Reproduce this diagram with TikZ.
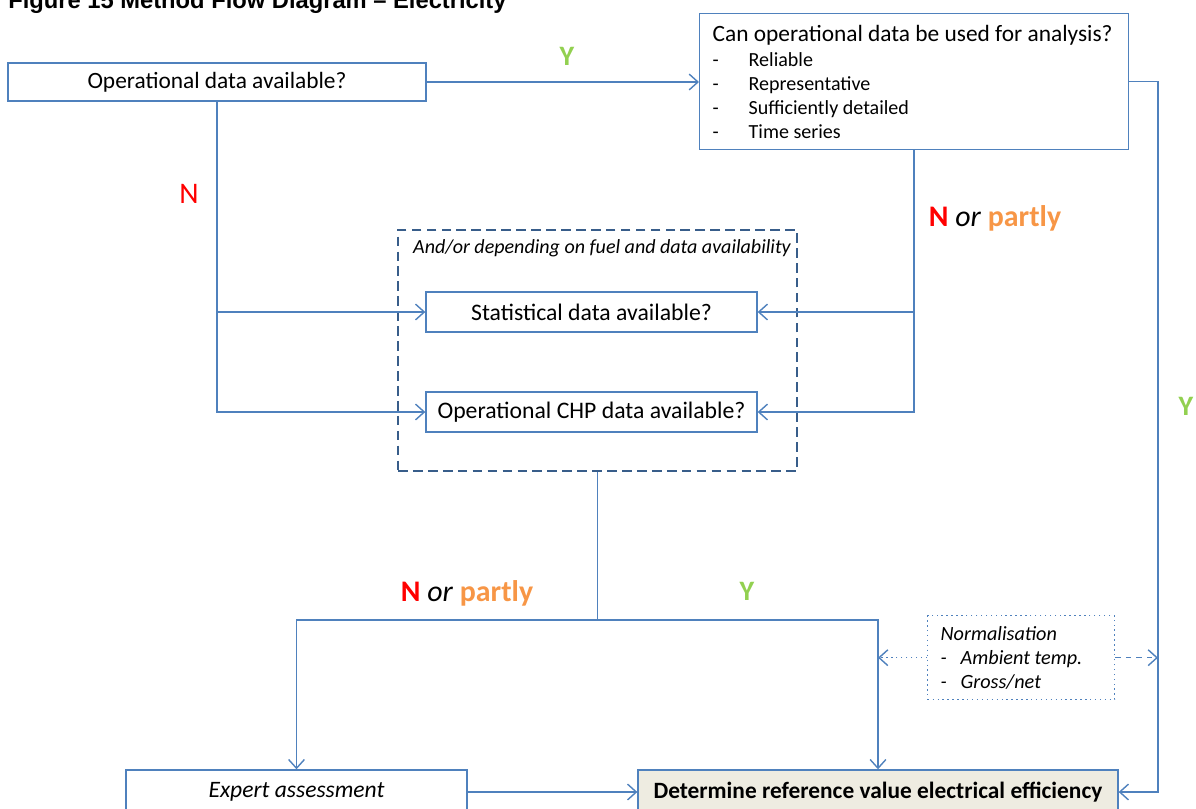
\documentclass[tikz,border=0pt]{standalone}
\usepackage{fontspec}
\setmainfont{Carlito}
\newfontfamily\titlefont{Liberation Sans}
\usetikzlibrary{arrows.meta,calc,positioning}

\definecolor{boxblue}{HTML}{4F81BD}
\definecolor{grpblue}{HTML}{385D8A}
\definecolor{ansgreen}{HTML}{92D050}
\definecolor{ansred}{HTML}{FF0000}
\definecolor{ansorange}{HTML}{F79646}
\definecolor{finfill}{HTML}{EEECE1}

\newcommand{\dashitem}[2]{\makebox[#1][l]{-}#2}
\newcommand{\norpartly}{\textcolor{ansred}{\textbf{N}} \textit{or} \textcolor{ansorange}{\textbf{partly}}}

\begin{document}
\begin{tikzpicture}[
    x=0.02cm, y=-0.02cm,
    >={Straight Barb[length=5pt,width=9pt]},
    qbox/.style={draw=boxblue, line width=0.8pt, fill=white, inner sep=0pt, font=\fontsize{13.3}{16}\selectfont},
    grpbox/.style={draw=grpblue, line width=1.6pt, dash pattern=on 5.5pt off 3pt, inner sep=0pt},
    normbox/.style={draw=boxblue, line width=0.8pt, dotted, align=flush left, anchor=north west, inner xsep=0.26cm, font=\itshape\fontsize{11.5}{13.6}\selectfont},
    conn/.style={draw=boxblue, line width=0.8pt},
    ans/.style={font=\fontsize{17}{19}\selectfont},
    yes/.style={font=\bfseries\fontsize{16}{18}\selectfont, text=ansgreen},
]
\useasboundingbox (0,0) rectangle (1196,808);

% ---- title (cut at the top of the page) ----
\node[anchor=base west, inner sep=0pt, font=\titlefont\bfseries\fontsize{13.5}{15}\selectfont] (title) at (8,8.5)
    {Figure 15 Method Flow Diagram – Electricity};

% ---- question boxes ----
\node[qbox, minimum width=8.36cm, minimum height=0.76cm] (opdata) at (217,82) {Operational data available?};

\node[qbox, anchor=north west, minimum height=2.72cm, text width=8.06cm, inner xsep=0.26cm, align=flush left,
      font=\fontsize{11.4}{13.6}\selectfont] (usable) at (699,13) {
    {\fontsize{13.3}{13.6}\selectfont Can operational data be used for analysis?}\\[1pt]
    \dashitem{0.72cm}{Reliable}\\
    \dashitem{0.72cm}{Representative}\\
    \dashitem{0.72cm}{Sufficiently detailed}\\
    \dashitem{0.72cm}{Time series}
};

% ---- group of alternative sources ----
\node[grpbox, minimum width=7.98cm, minimum height=4.82cm] (grp) at (597.5,350.5) {};
\node[anchor=north, inner sep=0pt, font=\itshape\fontsize{11.4}{13}\selectfont] (grplbl) at (602,239)
    {And/or depending on fuel and data availability};

\node[qbox, minimum width=6.62cm, minimum height=0.8cm, font=\fontsize{13.5}{16}\selectfont] (stat) at (591.5,312) {Statistical data available?};
\node[qbox, minimum width=6.62cm, minimum height=0.8cm, font=\fontsize{13.5}{16}\selectfont] (chp) at (591.5,412) {Operational CHP data available?};

% ---- normalisation ----
\node[normbox, text width=3.22cm, minimum height=1.68cm] (norm) at (927,615) {
    Normalisation\\
    \dashitem{0.4cm}{Ambient temp.}\\
    \dashitem{0.4cm}{Gross/net}
};

% ---- end boxes (cut at the bottom) ----
\node[qbox, minimum width=6.82cm, minimum height=0.88cm, font=\itshape\fontsize{13.4}{16}\selectfont] (expert) at (296.5,792) {Expert assessment};
\node[qbox, fill=finfill, minimum width=9.6cm, minimum height=0.88cm, font=\bfseries\fontsize{13.3}{16}\selectfont] (fin) at (878,792) {Determine reference value electrical efficiency};

% ---- connectors ----
\coordinate (yright) at (1158,80);
\coordinate (split) at (597.5,620);

\draw[conn, ->] (opdata.east) -- (opdata.east -| usable.west);
\draw[conn, ->] (usable.east) -- (usable.east -| yright) |- (fin.east);

\draw[conn, ->] (opdata.south) |- (stat.west);
\draw[conn, ->] (opdata.south) |- (chp.west);
\draw[conn, ->] (usable.south) |- (stat.east);
\draw[conn, ->] (usable.south) |- (chp.east);

\draw[conn, ->] (grp.south) -- (split) -| (expert.north);
\draw[conn, ->] (split) -| (fin.north);

\draw[conn, ->, dotted] (norm.west) -- (norm.west -| fin.north);
\draw[conn, ->, dashed] (norm.east) -- (norm.east -| yright);

\draw[conn, ->] (expert.east) -- (fin.west);

% ---- answers ----
\node[yes] (yes1) at (567,56) {Y};
\node[ans, text=ansred] (no1) at (189,194) {N};
\node[ans] (np1) at (995,218) {\norpartly};
\node[yes] (yes2) at (1186,406) {Y};
\node[ans] (np2) at (467,593) {\norpartly};
\node[yes] (yes3) at (747,591) {Y};
\end{tikzpicture}
\end{document}
